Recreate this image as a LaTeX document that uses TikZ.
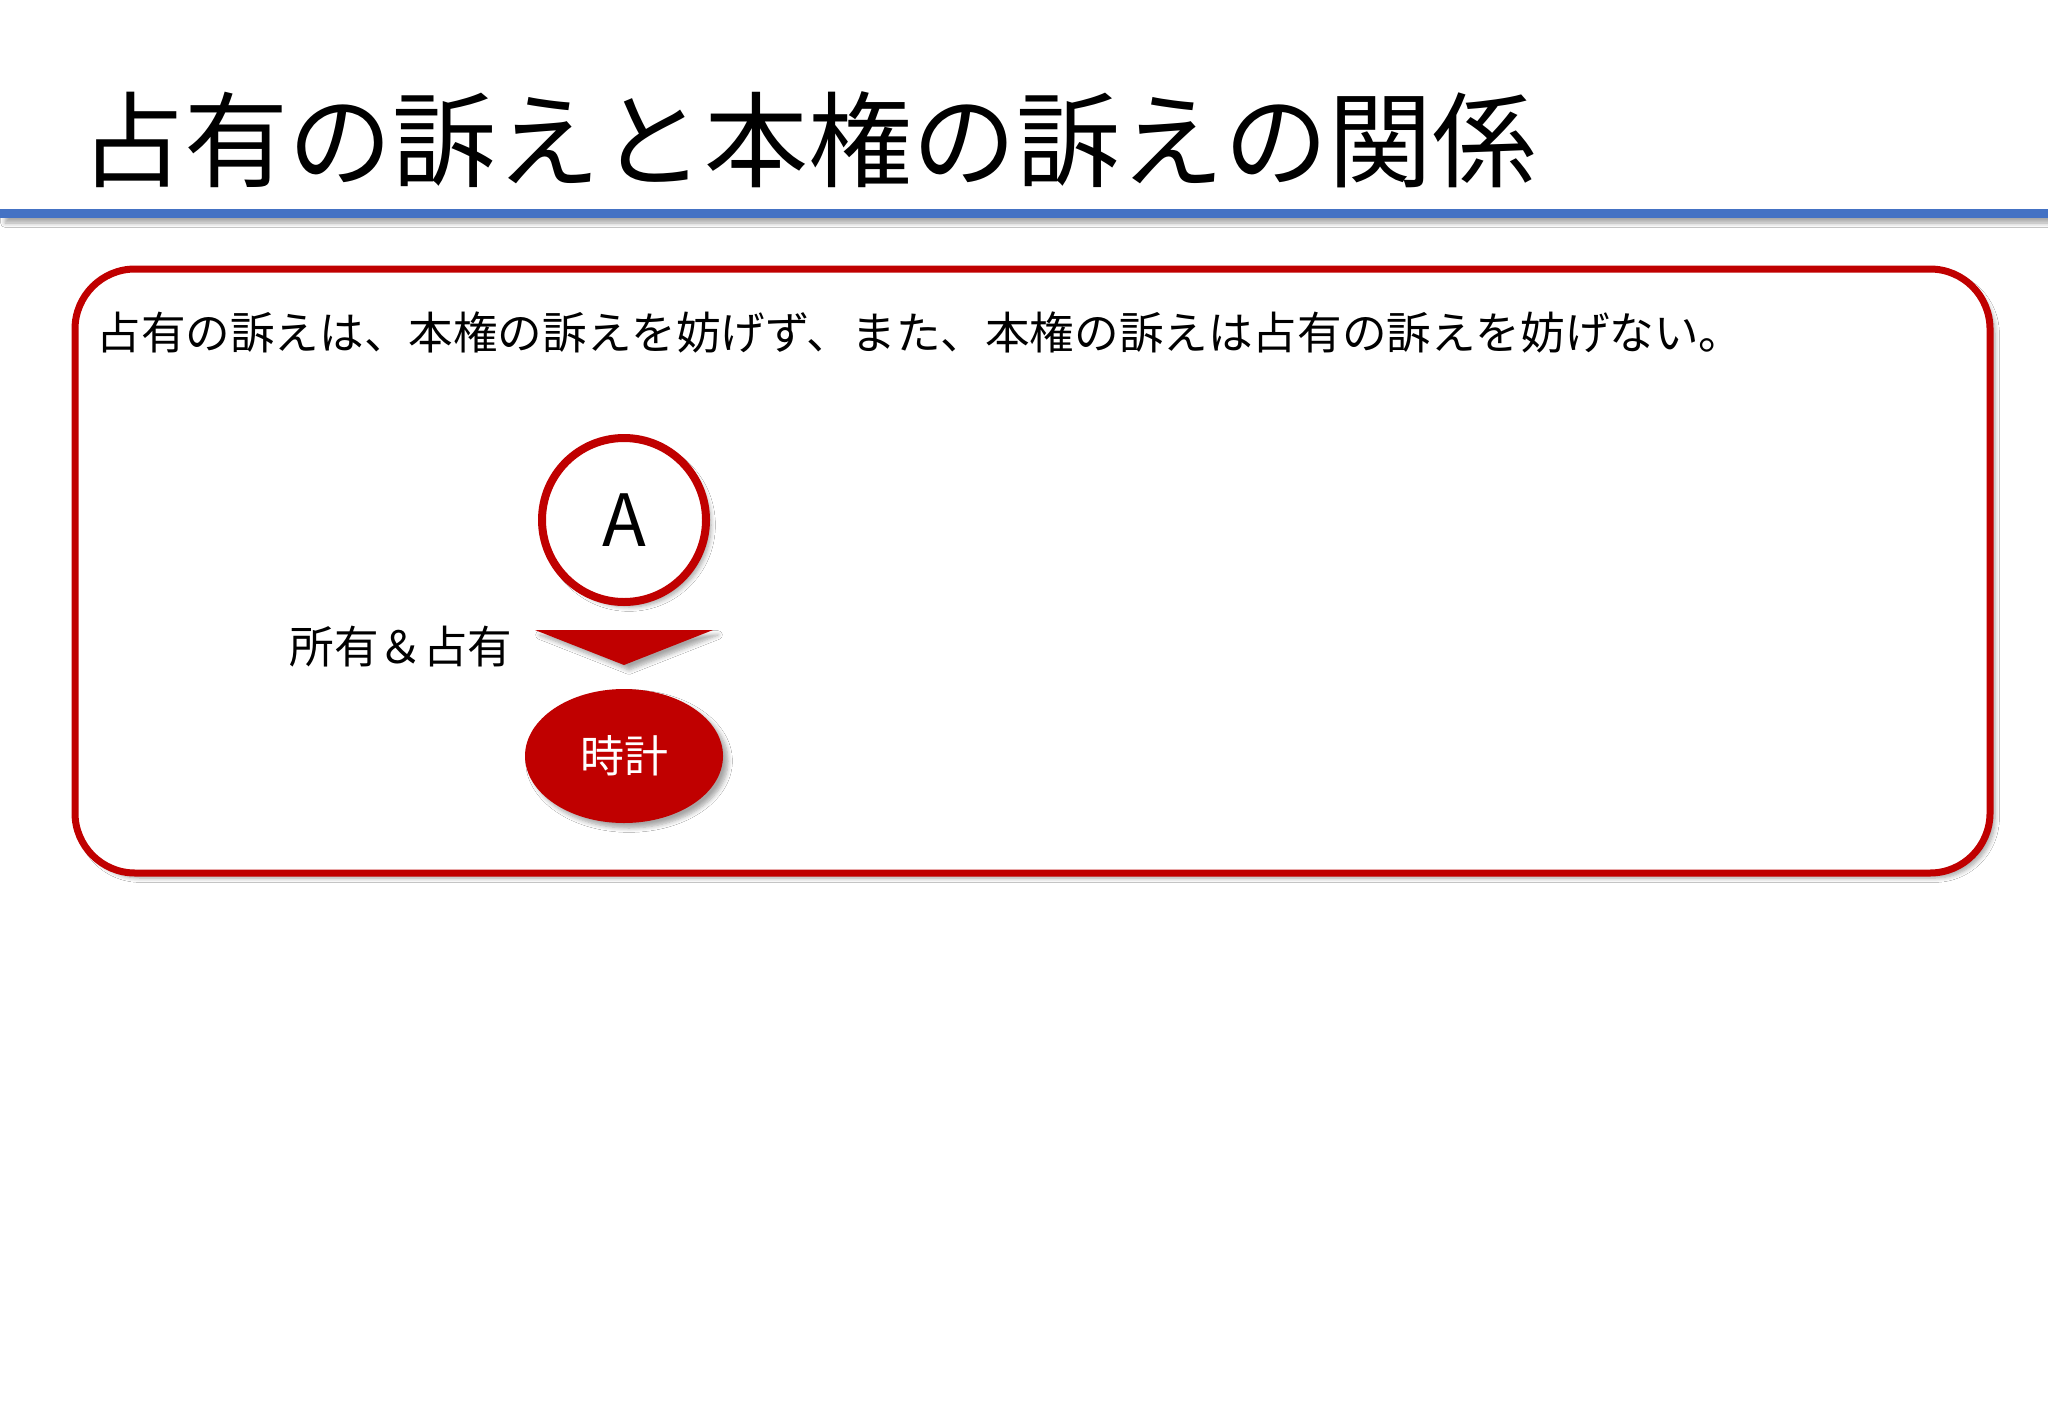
\documentclass[tikz,border=0pt]{standalone}
\usepackage{fontspec}
\setmainfont{Noto Sans CJK JP}
\newfontfamily\cjk{Noto Sans CJK JP}
\usetikzlibrary{shapes.geometric,shadows.blur}
\definecolor{dred}{HTML}{C00000}
\definecolor{lblue}{HTML}{4472C4}
\tikzset{
  shd/.style={blur shadow={shadow xshift=2.5pt,shadow yshift=-2.5pt,shadow blur steps=6,shadow opacity=35}},
  titletext/.style={anchor=west,inner sep=0pt,font=\cjk\fontsize{52pt}{52pt}\selectfont},
  bodytext/.style={anchor=west,inner sep=0pt,font=\cjk\fontsize{22.3pt}{22.3pt}\selectfont},
  panel/.style={draw=dred,line width=3.5pt,rounded corners=30pt,fill=white,shd},
  person/.style={circle,draw=dred,line width=4pt,fill=white,minimum size=82pt,inner sep=0pt,shd,font=\fontsize{36pt}{36pt}\selectfont},
  thing/.style={ellipse,fill=dred,minimum width=99pt,minimum height=67pt,inner sep=0pt,shd,text=white,font=\cjk\fontsize{22pt}{22pt}\selectfont},
  arrowhd/.style={fill=dred,shd}
}
\begin{document}
\begin{tikzpicture}[x=0.5pt,y=-0.5pt]
\useasboundingbox[fill=white] (0,0) rectangle (2048,1418);
% title
\node[titletext] (title) at (80,140) {占有の訴えと本権の訴えの関係};
% blue rule
\fill[lblue,shd] (0,209) rectangle (2048,218);
% panel
\draw[panel] (75,269) rectangle (1990,873);
\node[bodytext] (body) at (96,333) {占有の訴えは、本権の訴えを妨げず、また、本権の訴えは占有の訴えを妨げない。};
% diagram
\node[person] (A) at (624,520) {A};
\node[thing] (clock) at (624,756) {時計};
\coordinate (tl) at (535,630);
\coordinate (tr) at (713,630);
\coordinate (tip) at (624,665);
\path[arrowhd] (tl) -- (tr) -- (tip) -- cycle;
\node[bodytext,anchor=center] (rel) at (401,647) {所有＆占有};
\end{tikzpicture}
\end{document}
